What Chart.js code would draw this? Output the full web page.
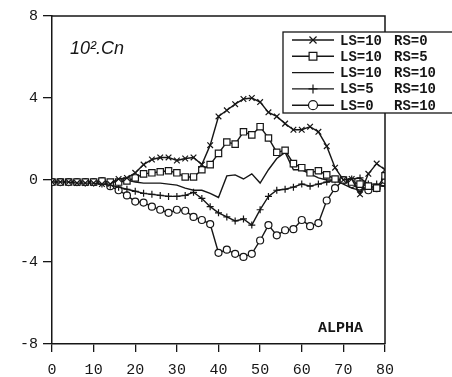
<!DOCTYPE html>
<html>
<head>
<meta charset="utf-8">
<script src="https://cdn.jsdelivr.net/npm/chart.js@4.4.1/dist/chart.umd.min.js"></script>
<style>
    body { margin: 0; background: #fff; }
    #wrap { width: 452px; height: 377px; }
</style>
</head>
<body>
<div id="wrap"><canvas id="graficoCn" width="452" height="377"></canvas></div>
<script>
// valores (alpha de 2 em 2 graus)
const alpha = [0, 2, 4, 6, 8, 10, 12, 14, 16, 18, 20, 22, 24, 26, 28, 30, 32, 34, 36, 38, 40,
               42, 44, 46, 48, 50, 52, 54, 56, 58, 60, 62, 64, 66, 68, 70, 72, 74, 76, 78, 80];

const cnLS10RS0 = [-0.1, -0.1, -0.1, -0.15, -0.15, -0.15, -0.2, -0.2, 0.05, 0.1,
                   0.35, 0.75, 1.0, 1.1, 1.1, 0.95, 1.05, 1.1, 0.75, 1.7,
                   3.1, 3.4, 3.7, 3.95, 4.0, 3.8, 3.3, 3.1, 2.75, 2.45,
                   2.45, 2.6, 2.35, 1.65, 0.6, 0.0, 0.05, -0.7, 0.3, 0.8, 0.5];
const cnLS10RS5 = [-0.1, -0.1, -0.1, -0.1, -0.1, -0.1, -0.05, -0.1, -0.1, -0.05,
                   0.1, 0.3, 0.35, 0.4, 0.45, 0.35, 0.15, 0.15, 0.5, 0.75,
                   1.3, 1.85, 1.75, 2.35, 2.2, 2.6, 2.05, 1.35, 1.45, 0.8,
                   0.6, 0.35, 0.45, 0.25, 0.05, 0.0, -0.1, -0.2, -0.3, -0.4, 0.2];
const cnLS10RS10 = [-0.1, -0.1, -0.1, -0.1, -0.1, -0.1, -0.1, -0.1, 0.0, 0.0,
                    -0.1, -0.15, -0.15, -0.15, -0.2, -0.25, -0.4, -0.5, -0.5, -0.65,
                    -0.85, 0.2, 0.25, 0.05, 0.3, -0.15, 0.5, 1.05, 1.35, 0.5,
                    0.5, 0.3, 0.1, 0.0, 0.0, -0.2, -0.4, -0.5, -0.3, -0.3, -0.3];
const cnLS5RS10 = [-0.1, -0.1, -0.1, -0.1, -0.15, -0.15, -0.2, -0.25, -0.35, -0.45,
                   -0.55, -0.65, -0.7, -0.75, -0.8, -0.8, -0.75, -0.6, -0.9, -1.3,
                   -1.6, -1.8, -2.0, -1.9, -2.2, -1.45, -0.8, -0.5, -0.45, -0.35,
                   -0.2, -0.3, -0.2, -0.1, 0.0, 0.0, 0.05, 0.1, -0.2, -0.2, -0.3];
const cnLS0RS10 = [-0.1, -0.1, -0.1, -0.1, -0.1, -0.1, -0.05, -0.3, -0.5, -0.75,
                   -1.05, -1.1, -1.3, -1.45, -1.6, -1.45, -1.5, -1.8, -1.95, -2.15,
                   -3.55, -3.4, -3.6, -3.75, -3.6, -2.95, -2.2, -2.7, -2.45, -2.4,
                   -1.95, -2.25, -2.1, -1.0, -0.4, 0.0, -0.2, -0.4, -0.5, -0.4, 0.0];

const xTicks = [0, 10, 20, 30, 40, 50, 60, 70, 80];
const yTicks = [-8, -4, 0, 4, 8];

const ink = "#161616";

function pontos(valores) {
    return alpha.map(function (a, i) { return { x: a, y: valores[i] }; });
}

function serie(label, valores, estilo, raio) {
    return {
        label: label,
        data: pontos(valores),
        borderColor: ink,
        backgroundColor: "#fff",
        borderWidth: 1.4,
        pointStyle: estilo,
        pointRadius: raio,
        pointBorderWidth: 1.2,
        pointBorderColor: ink,
        pointBackgroundColor: "#fff",
        tension: 0
    };
}

// moldura, textos e legenda desenhados à mão
const molduraPlugin = {
    id: "moldura",
    afterDraw: function (chart) {
        const c = chart.ctx;
        const a = chart.chartArea;
        c.save();
        c.strokeStyle = ink;
        c.fillStyle = ink;
        c.lineWidth = 1.5;
        c.beginPath();
        c.moveTo(a.left, a.top);
        c.lineTo(a.right, a.top);
        c.lineTo(a.right, a.bottom);
        c.stroke();

        c.textBaseline = "alphabetic";
        c.textAlign = "left";
        c.font = "italic 18px 'Liberation Sans'";
        c.fillText("10\u00B2.Cn", 70, 54);
        c.font = "bold 15px 'Liberation Mono'";
        c.fillText("ALPHA", 318, 332);

        // legenda
        c.fillStyle = "#fff";
        c.fillRect(283, 32, 175, 81);
        c.lineWidth = 1.3;
        c.strokeRect(283, 32, 175, 81);
        c.font = "bold 14px 'Liberation Mono'";
        c.textBaseline = "middle";
        chart.data.datasets.forEach(function (ds, i) {
            const y = 40 + i * 16.3;
            c.strokeStyle = ink;
            c.lineWidth = 1.4;
            c.beginPath();
            c.moveTo(292, y);
            c.lineTo(334, y);
            c.stroke();
            if (ds.pointRadius > 0) {
                c.fillStyle = "#fff";
                c.lineWidth = 1.2;
                Chart.helpers.drawPoint(c, {
                    pointStyle: ds.pointStyle,
                    radius: ds.pointRadius + 1,
                    borderWidth: 1.2
                }, 313, y);
            }
            const partes = ds.label.split(" ");
            c.fillStyle = ink;
            c.fillText(partes[0], 340, y + 1);
            c.fillText(partes[1], 394, y + 1);
        });
        c.restore();
    }
};

document.addEventListener("DOMContentLoaded", function () {

    const ctx = document.getElementById("graficoCn");

    new Chart(ctx, {
        type: "line",
        data: {
            datasets: [
                serie("LS=10 RS=0", cnLS10RS0, "crossRot", 4),
                serie("LS=10 RS=5", cnLS10RS5, "rect", 4.5),
                serie("LS=10 RS=10", cnLS10RS10, "circle", 0),
                serie("LS=5 RS=10", cnLS5RS10, "cross", 3.5),
                serie("LS=0 RS=10", cnLS0RS10, "circle", 3.5)
            ]
        },
        options: {
            responsive: false,
            animation: false,
            devicePixelRatio: 1,
            layout: {
                padding: { left: 0, right: 67, top: 16, bottom: 0 }
            },
            plugins: {
                legend: { display: false },
                tooltip: { enabled: false }
            },
            scales: {
                x: {
                    type: "linear",
                    min: 0,
                    max: 80,
                    afterBuildTicks: function (scale) {
                        scale.ticks = xTicks.map(function (v) { return { value: v }; });
                    },
                    afterFit: function (scale) { scale.height = 33; },
                    grid: {
                        drawOnChartArea: false,
                        color: ink,
                        lineWidth: 1.3,
                        tickLength: 8
                    },
                    border: { color: ink, width: 1.5 },
                    ticks: {
                        color: ink,
                        padding: 9,
                        maxRotation: 0,
                        font: { family: "'Liberation Mono'", size: 15 }
                    }
                },
                y: {
                    min: -8,
                    max: 8,
                    afterBuildTicks: function (scale) {
                        scale.ticks = yTicks.map(function (v) { return { value: v }; });
                    },
                    afterFit: function (scale) { scale.width = 52; },
                    grid: {
                        drawOnChartArea: false,
                        color: ink,
                        lineWidth: 1.3,
                        tickLength: 9
                    },
                    border: { color: ink, width: 1.5 },
                    ticks: {
                        color: ink,
                        padding: 5,
                        font: { family: "'Liberation Mono'", size: 15 }
                    }
                }
            }
        },
        plugins: [molduraPlugin]
    });

});
</script>
</body>
</html>
